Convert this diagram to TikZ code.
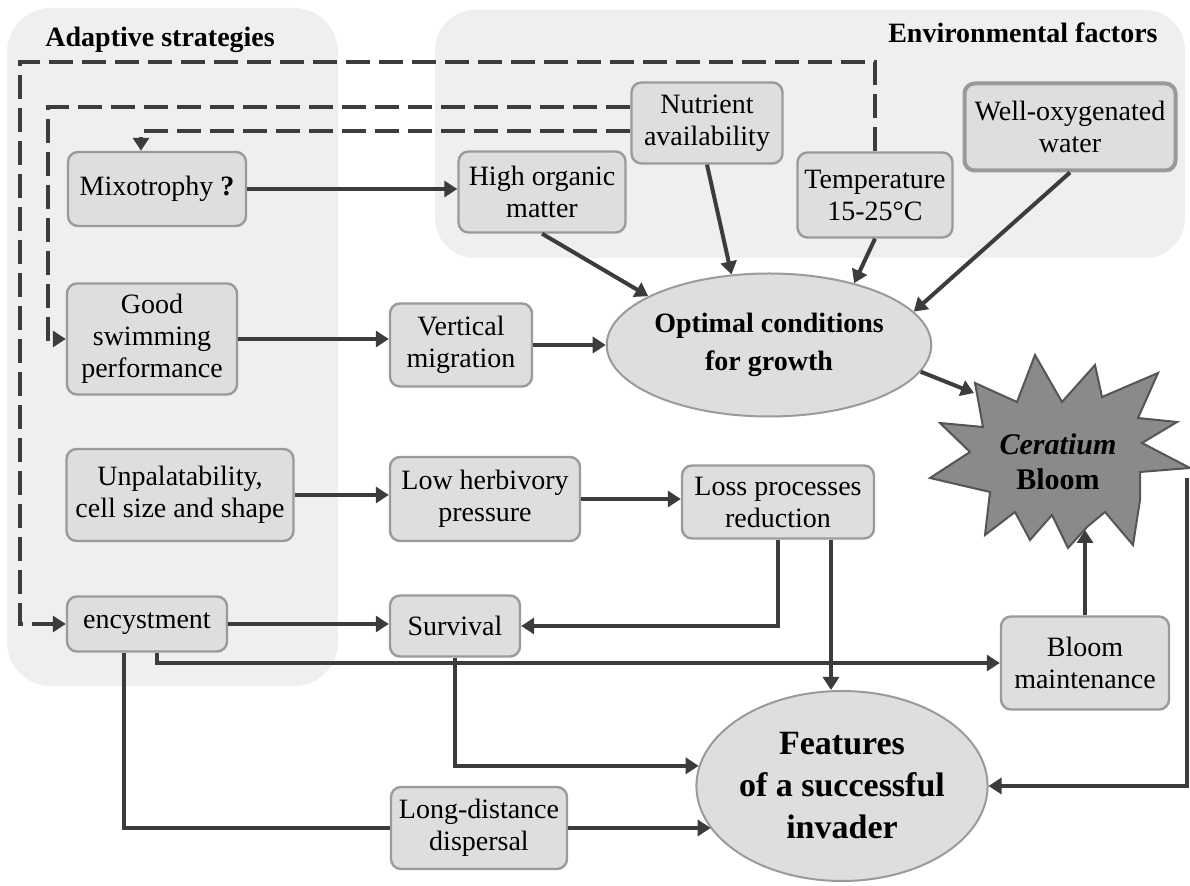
\documentclass[tikz,border=0pt]{standalone}
\usepackage{fontspec}
\setmainfont{Liberation Serif}
\usepackage{tikz}
\usetikzlibrary{arrows.meta}
\usetikzlibrary{shapes.geometric}
\definecolor{panelfill}{HTML}{EFEFEF}
\definecolor{boxfill}{HTML}{DEDEDE}
\definecolor{boxline}{HTML}{9A9A9A}
\definecolor{linecol}{HTML}{3C3C3C}
\definecolor{starfill}{HTML}{8A8A8A}
\definecolor{starline}{HTML}{555555}
\tikzset{
panel/.style = { fill = panelfill, draw = none },
head/.style = { font = \fontsize{14}{16}\selectfont\bfseries, inner sep = 0pt },
box/.style = { rectangle, draw = boxline, fill = boxfill, line width = 1.2pt, rounded corners = 5pt, align = center, inner sep = 0pt, font = \fontsize{14}{16}\selectfont },
oval/.style = { ellipse, draw = boxline, fill = boxfill, line width = 1pt, align = center, inner sep = 0pt },
burst/.style = { fill = starfill, draw = starline, line width = 1pt },
link/.style = { draw = linecol, line width = 2pt, -{Triangle[length = 6.5pt, width = 8pt]} },
plain link/.style = { draw = linecol, line width = 2pt },
dashed link/.style = { link, dash pattern = on 12pt off 4.5pt },
}
\begin{document}
\begin{tikzpicture}[x = 0.5pt, y = -0.5pt]
    \useasboundingbox (0, 0) rectangle (1190, 886);
    % background panels
    \path[panel, rounded corners = 22pt] (7, 8) rectangle (338, 686);
    \path[panel, rounded corners = 20pt] (435, 10) rectangle (1185, 258);
    \node[head, anchor = west] (adapt) at (45, 40) {Adaptive strategies};
    \node[head, anchor = east] (env) at (1158, 33) {Environmental factors};
    % bloom star
    \draw[burst] (1035, 355) -- (1062, 402) -- (1095, 365) -- (1102, 397) -- (1158, 373) -- (1138, 418)
        -- (1177, 422) -- (1142, 443) -- (1190, 468) -- (1140, 472) -- (1140, 500) -- (1133, 545)
        -- (1105, 512) -- (1087, 527) -- (1068, 548) -- (1052, 515) -- (1030, 540) -- (1015, 512)
        -- (985, 535) -- (990, 492) -- (930, 478) -- (970, 452) -- (940, 423) -- (983, 427)
        -- (975, 383) -- (1017, 402) -- cycle;
    \node[align = center, inner sep = 0pt, font = \fontsize{15}{17.5}\selectfont\bfseries] (bloom) at (1058, 462) {\textit{Ceratium}\\Bloom};
    \coordinate (bloom in) at (974, 393);
    \coordinate (bloom out) at (1187, 478);
    \coordinate (bloom base) at (1085, 530);
    % environmental factors
    \node[box, minimum width = 75.5pt, minimum height = 40.5pt] (nutrient) at (707, 123) {Nutrient\\availability};
    \node[box, minimum width = 83.5pt, minimum height = 40.5pt] (organic) at (542, 192) {High organic\\matter};
    \node[box, minimum width = 77.5pt, minimum height = 42.5pt] (temp) at (875, 195) {Temperature\\15-25°C};
    \node[box, line width = 2pt, minimum width = 105.5pt, minimum height = 43.5pt] (oxygen) at (1070, 127) {Well-oxygenated\\water};
    % adaptive strategies
    \node[box, minimum width = 89pt, minimum height = 37pt] (mixo) at (157, 189) {Mixotrophy \textbf{?}};
    \node[box, minimum width = 85pt, minimum height = 55.5pt] (swim) at (152, 339) {Good\\swimming\\performance};
    \node[box, minimum width = 113.5pt, minimum height = 46pt] (unpal) at (180, 495) {Unpalatability,\\cell size and shape};
    \node[box, minimum width = 80pt, minimum height = 27.5pt] (cyst) at (147, 624) {encystment};
    % consequences
    \node[box, minimum width = 71pt, minimum height = 41.5pt] (vert) at (461, 345) {Vertical\\migration};
    \node[box, minimum width = 95pt, minimum height = 42pt] (herb) at (485, 499) {Low herbivory\\pressure};
    \node[box, minimum width = 96pt, minimum height = 36.5pt] (loss) at (778, 502) {Loss processes\\reduction};
    \node[box, minimum width = 65pt, minimum height = 30.5pt] (surv) at (455, 626) {Survival};
    \node[box, minimum width = 84pt, minimum height = 46.5pt] (maint) at (1085, 663) {Bloom\\maintenance};
    \node[box, minimum width = 88pt, minimum height = 41pt] (disp) at (479, 828) {Long-distance\\dispersal};
    \node[oval, minimum width = 132pt, minimum height = 71.5pt, font = \fontsize{14}{19}\selectfont\bfseries] (optimal) at (769, 345) {Optimal conditions\\for growth};
    \node[oval, minimum width = 136.5pt, minimum height = 95pt, font = \fontsize{17}{21}\selectfont\bfseries] (invader) at (842, 786) {Features\\of a successful\\invader};
    % dashed feedbacks
    \draw[dashed link] (temp.north) |- (20, 62) |- (cyst.west);
    \draw[dashed link] ([yshift = 8pt]nutrient.west) -- (48, 107) |- (swim.west);
    \draw[dashed link] ([yshift = -4pt]nutrient.west) -| ([xshift = -8pt]mixo.north);
    % links
    \draw[link] (mixo.east) -- (mixo.east -| organic.west);
    \draw[link] (swim.east) -- (swim.east -| vert.west);
    \draw[link] (vert.east) -- (vert.east -| optimal.west);
    \draw[link] (unpal.east) -- (unpal.east -| herb.west);
    \draw[link] (herb.east) -- (herb.east -| loss.west);
    \draw[link] (cyst.east) -- (cyst.east -| surv.west);
    \draw[link] (loss.south) |- (surv.east);
    \draw[link] (loss.south -| 831,0) -- (invader.north -| 831,0);
    \draw[link] (cyst.south -| 157,0) |- (maint.west);
    \draw[plain link] (cyst.south -| 124,0) |- (disp.west);
    \draw[link] (disp.east) -- (disp.east -| invader.198);
    \draw[link] (surv.south) |- (invader.172);
    \draw[link] (organic.south) -- (optimal.158);
    \draw[link] (nutrient.south) -- (optimal.118);
    \draw[link] (temp.south) -- (optimal.36);
    \draw[link] (oxygen.south) -- (optimal.13);
    \draw[link] (optimal.-10) -- (bloom in);
    \draw[link] (maint.north) -- (bloom base);
    \draw[link] (bloom out) |- (invader.east);
\end{tikzpicture}
\end{document}
